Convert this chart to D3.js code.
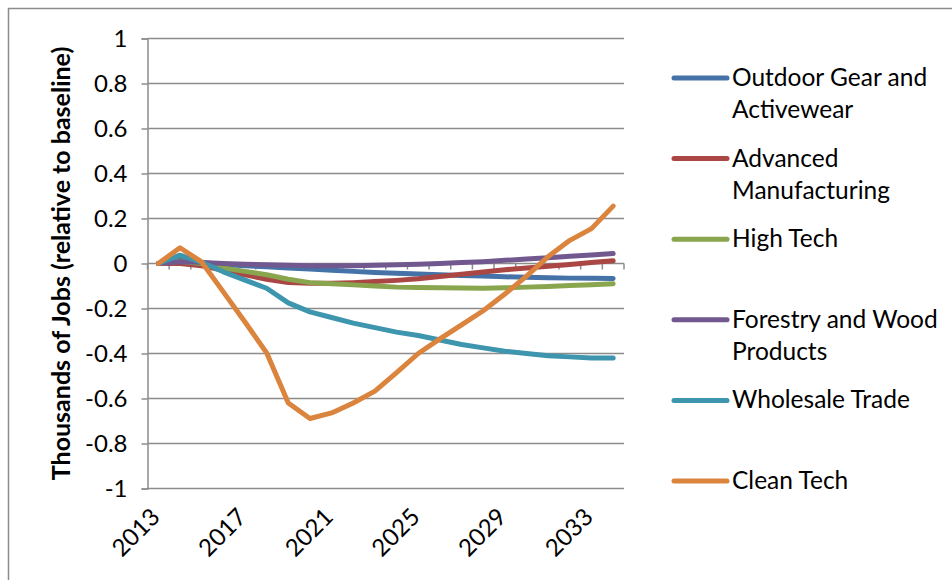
<!DOCTYPE html>
<html>
<head>
<meta charset="utf-8">
<script src="https://cdn.jsdelivr.net/npm/d3@7"></script>
<style>
  body { margin: 0; background: #fff; }
  text { font-family: Lato, "Open Sans", sans-serif; fill: #000; }
</style>
</head>
<body>
<div id="chart"></div>
<script>
// years on the category axis
var years = d3.range(2013, 2035);
var yTicks = [1, 0.8, 0.6, 0.4, 0.2, 0, -0.2, -0.4, -0.6, -0.8, -1];
var seriesNames = ["Outdoor Gear and Activewear", "Advanced Manufacturing", "High Tech",
  "Forestry and Wood Products", "Wholesale Trade", "Clean Tech"];
var colors = ["#4572A7", "#AA4643", "#89A54E", "#71588F", "#3D96AE", "#DB843D"];

var outdoor = [0, 0.02, 0.005, -0.005, -0.01, -0.015, -0.02, -0.025, -0.03, -0.035, -0.04,
  -0.043, -0.047, -0.05, -0.053, -0.056, -0.059, -0.061, -0.063, -0.065, -0.066, -0.067];
var advanced = [0, 0.0, -0.01, -0.03, -0.05, -0.07, -0.085, -0.088, -0.088, -0.085, -0.08,
  -0.075, -0.068, -0.058, -0.048, -0.038, -0.028, -0.02, -0.012, -0.004, 0.004, 0.012];
var highTech = [0, 0.01, 0.0, -0.02, -0.035, -0.05, -0.07, -0.085, -0.09, -0.095, -0.1,
  -0.105, -0.107, -0.108, -0.109, -0.11, -0.108, -0.105, -0.102, -0.098, -0.094, -0.09];
var forestry = [0, 0.008, 0.005, 0.0, -0.003, -0.006, -0.008, -0.01, -0.01, -0.01, -0.008,
  -0.006, -0.003, 0.0, 0.004, 0.008, 0.014, 0.02, 0.026, 0.032, 0.038, 0.044];
var wholesale = [0, 0.037, 0.005, -0.037, -0.074, -0.11, -0.175, -0.215, -0.24, -0.265, -0.285,
  -0.305, -0.32, -0.34, -0.36, -0.375, -0.39, -0.4, -0.41, -0.415, -0.42, -0.42];
var cleanTech = [0, 0.07, 0.007, -0.126, -0.26, -0.397, -0.62, -0.689, -0.664, -0.62, -0.567,
  -0.485, -0.4, -0.335, -0.273, -0.21, -0.136, -0.056, 0.031, 0.103, 0.155, 0.255];

var allSeries = [outdoor, advanced, highTech, forestry, wholesale, cleanTech];

var W = 952, H = 580;
var pLeft = 147.5, pRight = 624, pTop = 38.5, pBottom = 488.5;

var svg = d3.select("#chart").append("svg").attr("width", W).attr("height", H);

// outer chart border (cropped on right and bottom)
svg.append("path").attr("d", "M8.5,585 L8.5,8.5 L960,8.5")
  .attr("fill", "none").attr("stroke", "#8c8c8c").attr("stroke-width", 1.5);

var x = d3.scaleBand().domain(years).range([pLeft, pRight]);
var y = d3.scaleLinear().domain([-1, 1]).range([pBottom, pTop]);

// horizontal gridlines
svg.append("g").selectAll("line").data(yTicks).enter().append("line")
  .attr("x1", pLeft).attr("x2", pRight)
  .attr("y1", function(d) { return y(d); }).attr("y2", function(d) { return y(d); })
  .attr("stroke", "#8c8c8c").attr("stroke-width", 1.5);

// y axis
var yAxis = svg.append("g").attr("transform", "translate(" + pLeft + ",0)")
  .call(d3.axisLeft(y).tickValues(yTicks).tickSize(6).tickPadding(14)
    .tickFormat(function(d) { return String(+d.toFixed(1)); }));
yAxis.select(".domain").attr("stroke", "#8c8c8c").attr("stroke-width", 1.5);
yAxis.selectAll(".tick line").attr("stroke", "#8c8c8c").attr("stroke-width", 1.5);
yAxis.selectAll(".tick text").style("font-size", "24px").style("font-family", "Lato").attr("fill", "#000");

// x axis on the zero line
var xAxis = svg.append("g").attr("transform", "translate(0," + y(0) + ")");
var tickPos = years.map(function(d) { return x(d); }).concat([pRight]);
xAxis.selectAll("line.cat").data(tickPos).enter().append("line").attr("class", "cat")
  .attr("x1", function(d) { return d; }).attr("x2", function(d) { return d; })
  .attr("y1", 0).attr("y2", 6)
  .attr("stroke", "#8c8c8c").attr("stroke-width", 1.5);

// rotated year labels at the bottom, every fourth year
var labelYears = years.filter(function(d, i) { return i % 4 === 0; });
svg.append("g").selectAll("text").data(labelYears).enter().append("text")
  .attr("transform", function(d) {
    return "translate(" + (x(d) + x.bandwidth() / 2 + 3) + "," + (pBottom + 30) + ") rotate(-45)";
  })
  .attr("text-anchor", "end")
  .style("font-size", "24px")
  .text(function(d) { return d; });

// y axis title
svg.append("text")
  .attr("transform", "translate(70," + ((pTop + pBottom) / 2) + ") rotate(-90)")
  .attr("text-anchor", "middle")
  .style("font-size", "25px").style("font-weight", "bold")
  .text("Thousands of Jobs (relative to baseline)");

// series lines
var line = d3.line()
  .x(function(d, i) { return x(years[i]) + x.bandwidth() / 2; })
  .y(function(d) { return y(d); });

svg.append("g").selectAll("path").data(allSeries).enter().append("path")
  .attr("d", line)
  .attr("fill", "none")
  .attr("stroke", function(d, i) { return colors[i]; })
  .attr("stroke-width", 5)
  .attr("stroke-linecap", "round")
  .attr("stroke-linejoin", "round");

// legend
var legendRows = [["Outdoor Gear and", "Activewear"], ["Advanced", "Manufacturing"], ["High Tech"],
  ["Forestry and Wood", "Products"], ["Wholesale Trade"], ["Clean Tech"]];
var legendY = d3.scaleLinear().domain([0, 5]).range([78, 481]);
var lg = svg.append("g").selectAll("g").data(legendRows).enter().append("g")
  .attr("transform", function(d, i) { return "translate(0," + legendY(i) + ")"; });
lg.append("line").attr("x1", 674).attr("x2", 727).attr("y1", 0).attr("y2", 0)
  .attr("stroke", function(d, i) { return colors[i]; })
  .attr("stroke-width", 5).attr("stroke-linecap", "round");
lg.each(function(d) {
  var t = d3.select(this).append("text").attr("x", 732).attr("y", 8).style("font-size", "24.5px");
  d.forEach(function(s, j) {
    t.append("tspan").attr("x", 732).attr("dy", j === 0 ? 0 : 32).text(s);
  });
});
</script>
</body>
</html>
